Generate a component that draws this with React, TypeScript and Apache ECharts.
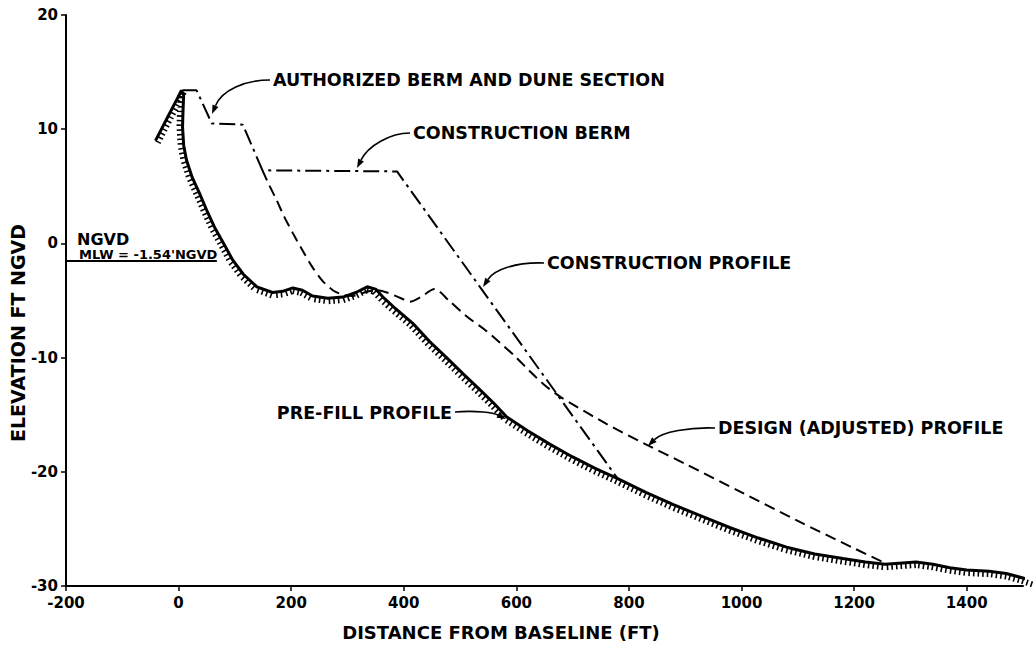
import React, { useEffect, useRef } from 'react';
import * as echarts from 'echarts';

// ---- data ----
const X_MIN = -200;
const X_MAX = 1500;
const Y_MIN = -30;
const Y_MAX = 20;

const PREFILL_X = [-41, -20, 0, 5, 9, 8, 7, 9, 14, 24, 37, 50, 64, 80, 96, 115, 139, 167, 185, 203, 220, 238, 265, 292, 315, 335, 350, 365, 385, 416, 446, 476, 505, 535, 560, 583, 620, 660, 700, 740, 780, 830, 880, 930, 980, 1030, 1080, 1130, 1180, 1220, 1255, 1280, 1310, 1340, 1370, 1400, 1440, 1470, 1500, 1518];
const PREFILL_Y = [9.0, 11.0, 12.9, 13.4, 13.0, 11.8, 10.2, 8.6, 7.3, 5.8, 4.4, 2.9, 1.4, 0.0, -1.45, -2.7, -3.8, -4.3, -4.2, -3.9, -4.1, -4.6, -4.8, -4.7, -4.3, -3.8, -4.0, -4.8, -5.7, -7.0, -8.6, -10.0, -11.4, -12.8, -14.0, -15.2, -16.4, -17.6, -18.7, -19.7, -20.6, -21.8, -22.9, -23.9, -24.9, -25.8, -26.6, -27.2, -27.6, -27.9, -28.1, -28.0, -27.9, -28.1, -28.4, -28.6, -28.7, -28.9, -29.3, -29.6];

const DESIGN_X = [149, 160, 174, 188, 203, 220, 238, 256, 274, 292, 309, 330, 350, 370, 395, 411, 430, 455, 480, 512, 545, 571, 600, 624, 650, 677, 700, 760, 830, 900, 1000, 1100, 1200, 1255];
const DESIGN_Y = [6.4, 5.2, 3.8, 2.3, 0.9, -0.6, -2.1, -3.3, -4.1, -4.5, -4.6, -4.3, -4.1, -4.3, -4.8, -5.1, -4.7, -4.0, -5.0, -6.4, -7.6, -8.7, -10.0, -11.2, -12.4, -13.4, -14.1, -15.8, -17.6, -19.3, -21.8, -24.3, -26.7, -28.0];

const CONSTR_X = [7, 32, 59, 114, 149, 388, 780];
const CONSTR_Y = [13.4, 13.4, 10.5, 10.4, 6.4, 6.3, -20.6];

const MLW_LEVEL = -1.54;
const MLW_X = [-233, 68];

const zip = (xs: number[], ys: number[]) => xs.map((x, i) => [x, ys[i]]);

const FONT = '"DejaVu Sans", sans-serif';
const LABEL_SIZE = 17.5;

function leader(x0: number, y0: number, c1x: number, c1y: number, c2x: number, c2y: number, tx: number, ty: number) {
  const dx = tx - c2x, dy = ty - c2y;
  const L = Math.hypot(dx, dy) || 1;
  const ux = dx / L, uy = dy / L;
  const al = 9, aw = 3.2;
  const bx = tx - ux * al, by = ty - uy * al;
  return [
    {
      type: 'bezierCurve',
      shape: { x1: x0, y1: y0, cpx1: c1x, cpy1: c1y, cpx2: c2x, cpy2: c2y, x2: bx, y2: by },
      style: { stroke: '#000', lineWidth: 1.6, fill: null },
      z: 10,
    },
    {
      type: 'polygon',
      shape: { points: [[tx, ty], [bx - uy * aw, by + ux * aw], [bx + uy * aw, by - ux * aw]] },
      style: { fill: '#000' },
      z: 10,
    },
  ];
}

function label(text: string, x: number, y: number, align = 'left', size = LABEL_SIZE, weight: any = 'bold', rotation = 0) {
  return {
    type: 'text',
    x,
    y,
    z: 10,
    rotation,
    style: {
      text,
      fill: '#000',
      fontSize: size,
      fontFamily: FONT,
      fontWeight: weight,
      textAlign: align,
      textVerticalAlign: 'middle',
    },
  };
}

export default function App() {
  const ref = useRef<HTMLDivElement>(null);
  useEffect(() => {
    if (!ref.current) return;
    const chart = echarts.init(ref.current, undefined, { renderer: 'svg' });
    const prefill = zip(PREFILL_X, PREFILL_Y);
    const option: any = {
      animation: false,
      backgroundColor: '#fff',
      grid: { left: 66, right: 10, top: 15, bottom: 63, containLabel: false },
      xAxis: {
        type: 'value',
        min: X_MIN,
        max: X_MAX,
        interval: 200,
        splitLine: { show: false },
        axisLine: { onZero: false, lineStyle: { color: '#000', width: 2 } },
        axisTick: { show: true, length: 5, inside: false, lineStyle: { color: '#000', width: 1.5 } },
        axisLabel: {
          color: '#000',
          fontSize: 15,
          fontWeight: 'bold',
          fontFamily: FONT,
          margin: 9,
          showMaxLabel: false,
          formatter: (v: number) => String(v),
        },
      },
      yAxis: {
        type: 'value',
        min: Y_MIN,
        max: Y_MAX,
        interval: 10,
        splitLine: { show: false },
        axisLine: { onZero: false, lineStyle: { color: '#000', width: 2 } },
        axisTick: { show: true, length: 5, lineStyle: { color: '#000', width: 1.5 } },
        axisLabel: { color: '#000', fontSize: 15, fontWeight: 'bold', fontFamily: FONT, margin: 8, formatter: (v: number) => String(v) },
      },
      series: [
        {
          type: 'line',
          name: 'Pre-fill profile',
          data: prefill,
          showSymbol: false,
          symbol: 'none',
          clip: false,
          lineStyle: { color: '#000', width: 3 },
          z: 5,
        },
        {
          type: 'custom',
          name: 'Pre-fill hatch',
          coordinateSystem: 'cartesian2d',
          data: [[0, 0]],
          silent: true,
          clip: false,
          z: 4,
          renderItem: (_params: any, api: any) => {
            const pts = prefill.map((p) => api.coord(p));
            let d = '';
            const spacing = 4.6;
            const len = 6;
            let carry = 0;
            for (let i = 0; i < pts.length - 1; i++) {
              const [x1, y1] = pts[i];
              const [x2, y2] = pts[i + 1];
              const dx = x2 - x1, dy = y2 - y1;
              const L = Math.hypot(dx, dy);
              if (L < 1e-6) continue;
              const ux = dx / L, uy = dy / L;
              const nx = -uy, ny = ux;
              let t = carry;
              while (t <= L) {
                const px = x1 + ux * t, py = y1 + uy * t;
                d += `M${px.toFixed(2)} ${py.toFixed(2)}L${(px + nx * len).toFixed(2)} ${(py + ny * len).toFixed(2)}`;
                t += spacing;
              }
              carry = t - L;
            }
            return {
              type: 'path',
              shape: { pathData: d },
              style: { stroke: '#000', lineWidth: 1.6, fill: 'none' },
            };
          },
        },
        {
          type: 'line',
          name: 'Design (adjusted) profile',
          data: zip(DESIGN_X, DESIGN_Y),
          showSymbol: false,
          symbol: 'none',
          smooth: 0.3,
          lineStyle: { color: '#000', width: 2, type: [11, 6] },
          z: 3,
        },
        {
          type: 'line',
          name: 'Construction profile',
          data: zip(CONSTR_X, CONSTR_Y),
          showSymbol: false,
          symbol: 'none',
          lineStyle: { color: '#000', width: 2, type: [16, 5, 3, 5] },
          z: 3,
        },
        {
          type: 'line',
          name: 'MLW',
          data: MLW_X.map((x) => [x, MLW_LEVEL]),
          showSymbol: false,
          symbol: 'none',
          clip: false,
          lineStyle: { color: '#000', width: 1.8 },
          z: 3,
        },
      ],
      graphic: [
        label('AUTHORIZED BERM AND DUNE SECTION', 273, 80),
        ...leader(270, 80, 245, 80, 222, 90, 212, 114),
        label('CONSTRUCTION BERM', 413, 133),
        ...leader(410, 133, 390, 133, 368, 146, 357, 168),
        label('CONSTRUCTION PROFILE', 547, 263),
        ...leader(544, 263, 515, 262, 494, 270, 483, 287),
        label('PRE-FILL PROFILE', 452, 413, 'right'),
        ...leader(455, 412, 476, 410, 494, 413, 506, 419),
        label('DESIGN (ADJUSTED) PROFILE', 718, 428),
        ...leader(715, 428, 690, 427, 662, 432, 648, 446),
        label('NGVD', 77, 239, 'left', 16, 'bold'),
        label("MLW = -1.54'NGVD", 79, 254, 'left', 13, 'bold'),
        label('ELEVATION FT NGVD', 18, 333, 'center', 19, 'bold', Math.PI / 2),
        label('DISTANCE FROM BASELINE (FT)', 501, 632, 'center', 18, 'bold'),
      ],
    };
    chart.setOption(option);
    return () => chart.dispose();
  }, []);
  return (
    <div
      ref={ref}
      style={{ position: 'absolute', left: 0, top: 0, width: 1033, height: 649, background: '#fff' }}
    />
  );
}
